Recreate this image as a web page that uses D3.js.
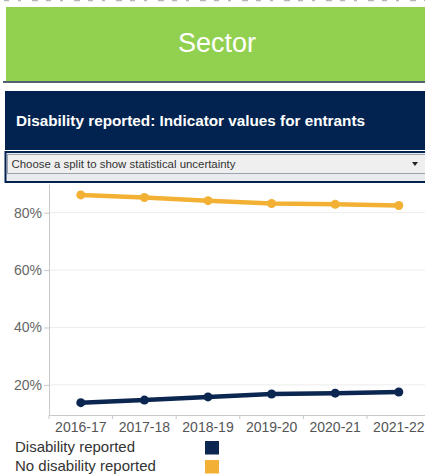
<!DOCTYPE html>
<html>
<head>
<meta charset="utf-8">
<script src="https://cdn.jsdelivr.net/npm/d3@7"></script>
<style>
  body { margin: 0; background: #fff; }
  svg { display: block; font-family: "Liberation Sans", Arial, sans-serif; }
</style>
</head>
<body>
<div id="chart"></div>
<script>
// chart data
const years = ['2016-17', '2017-18', '2018-19', '2019-20', '2020-21', '2021-22'];
const disabilityReported = [13.8, 14.7, 15.8, 16.8, 17.1, 17.5];
const noDisabilityReported = [86.2, 85.3, 84.2, 83.2, 82.9, 82.5];
const yTickValues = [20, 40, 60, 80];
const seriesNames = ['Disability reported', 'No disability reported'];
const seriesColors = ['#0b2650', '#f2b134'];

const width = 425, height = 475;
const navy = '#02234f';

const svg = d3.select('#chart').append('svg')
    .attr('width', width)
    .attr('height', height);

// cut-off text fragments at the very top
svg.append('line')
    .attr('x1', 4).attr('x2', width).attr('y1', 0.5).attr('y2', 0.5)
    .attr('stroke', '#b5b5b5').attr('stroke-width', 1.5)
    .attr('stroke-dasharray', '5,9,3,11,6,8');

// green "Sector" banner
svg.append('rect')
    .attr('x', 6).attr('y', 7).attr('width', width - 6).attr('height', 74)
    .attr('fill', '#92d050');
svg.append('text')
    .attr('x', 217).attr('y', 52)
    .attr('text-anchor', 'middle')
    .attr('fill', '#fff')
    .attr('font-size', 27)
    .text('Sector');
svg.append('line')
    .attr('x1', 3).attr('x2', width).attr('y1', 82).attr('y2', 82)
    .attr('stroke', '#1c2b44').attr('stroke-width', 1.5);

// navy title bar
svg.append('rect')
    .attr('x', 5).attr('y', 91).attr('width', width - 5).attr('height', 59)
    .attr('fill', navy);
svg.append('text')
    .attr('x', 16).attr('y', 126)
    .attr('fill', '#fff')
    .attr('font-size', 14)
    .attr('font-weight', 'bold')
    .attr('textLength', 349)
    .attr('lengthAdjust', 'spacingAndGlyphs')
    .text('Disability reported: Indicator values for entrants');

// dropdown
svg.append('rect')
    .attr('x', 5.5).attr('y', 152).attr('width', width - 4).attr('height', 30)
    .attr('fill', '#e9ebef').attr('stroke', navy).attr('stroke-width', 2);
svg.append('rect')
    .attr('x', 7.5).attr('y', 154.5).attr('width', width - 6).attr('height', 19)
    .attr('fill', '#efefef').attr('stroke', '#9aa3b0').attr('stroke-width', 1);
svg.append('text')
    .attr('x', 11.5).attr('y', 167.5)
    .attr('fill', '#333')
    .attr('font-size', 10)
    .attr('textLength', 224)
    .attr('lengthAdjust', 'spacingAndGlyphs')
    .text('Choose a split to show statistical uncertainty');
svg.append('path')
    .attr('d', 'M412,162 L418,162 L415,166 Z')
    .attr('fill', '#222');

// scales
const x = d3.scaleBand().domain(years).range([49, 430.6]).padding(0);
const y = d3.scaleLinear().domain([9.5, 90]).range([415, 184]);

const plot = svg.append('g');

// gridlines
plot.selectAll('.grid').data(yTickValues).enter().append('line')
    .attr('class', 'grid')
    .attr('x1', 49).attr('x2', width)
    .attr('y1', d => y(d)).attr('y2', d => y(d))
    .attr('stroke', '#ececec').attr('stroke-width', 1);

// y axis
const yAxis = d3.axisLeft(y).tickValues(yTickValues).tickSize(5).tickSizeOuter(0)
    .tickFormat(d => d + '%');
const yG = plot.append('g').attr('transform', 'translate(49,0)').call(yAxis);
yG.select('.domain').attr('stroke', '#c8c8c8');
yG.selectAll('.tick line').attr('stroke', '#c8c8c8');
yG.selectAll('.tick text')
    .attr('fill', '#666').attr('font-size', 14)
    .attr('font-family', '"Liberation Sans", Arial, sans-serif')
    .attr('x', -7);

// x axis
const xAxis = d3.axisBottom(x).tickSize(0).tickSizeOuter(0);
const xG = plot.append('g').attr('transform', 'translate(0,415)').call(xAxis);
xG.select('.domain').attr('stroke', '#c8c8c8');
xG.selectAll('.tick text')
    .attr('fill', '#555').attr('font-size', 14)
    .attr('font-family', '"Liberation Sans", Arial, sans-serif')
    .attr('y', 7).attr('dy', '0.71em');
xG.selectAll('.bandtick').data(years).enter().append('line')
    .attr('class', 'bandtick')
    .attr('x1', d => x(d)).attr('x2', d => x(d))
    .attr('y1', 0).attr('y2', 4)
    .attr('stroke', '#c8c8c8');

// series lines + points
const series = [disabilityReported, noDisabilityReported];
const line = d3.line()
    .x((d, i) => x(years[i]) + x.bandwidth() / 2)
    .y(d => y(d));

series.forEach((vals, s) => {
    plot.append('path')
        .datum(vals)
        .attr('d', line)
        .attr('fill', 'none')
        .attr('stroke', seriesColors[s])
        .attr('stroke-width', 4.5)
        .attr('stroke-linejoin', 'round');
    plot.selectAll('.pt' + s).data(vals).enter().append('circle')
        .attr('class', 'pt' + s)
        .attr('cx', (d, i) => x(years[i]) + x.bandwidth() / 2)
        .attr('cy', d => y(d))
        .attr('r', 4.5)
        .attr('fill', seriesColors[s]);
});

// legend
const legend = svg.append('g');
seriesNames.forEach((name, i) => {
    legend.append('text')
        .attr('x', 15).attr('y', 452 + i * 19)
        .attr('fill', '#333').attr('font-size', 15)
        .text(name);
    legend.append('rect')
        .attr('x', 205).attr('y', 441 + i * 19)
        .attr('width', 14).attr('height', 13.5)
        .attr('fill', seriesColors[i]);
});
</script>
</body>
</html>
